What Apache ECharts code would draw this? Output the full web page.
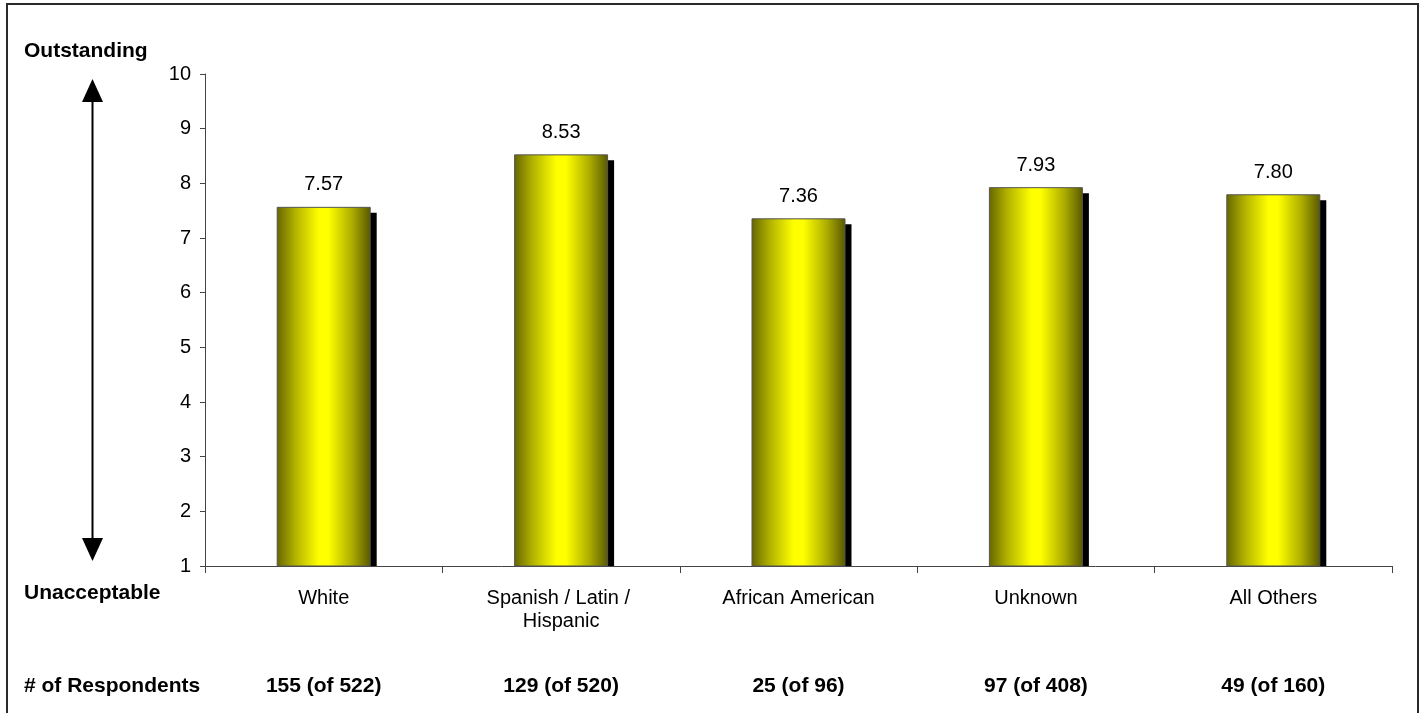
<!DOCTYPE html>
<html>
<head>
<meta charset="utf-8">
<script src="https://cdn.jsdelivr.net/npm/echarts@6/dist/echarts.min.js"></script>
<style>
  html, body { margin: 0; padding: 0; background: #fff; }
  #chart { width: 1425px; height: 713px; }
</style>
</head>
<body>
<div id="chart"></div>
<script>
// data
var categories = ['White', 'Spanish / Latin / Hispanic', 'African American', 'Unknown', 'All Others'];
var scores = [7.57, 8.53, 7.36, 7.93, 7.80];
var respondents = [155, 129, 25, 97, 49];
var invited = [522, 520, 96, 408, 160];
var yTicks = [1, 10, 1]; // min, max, interval

var FONT = '"Liberation Sans", Arial, sans-serif';
var BAR_W = 94;
var SHADOW = 6;

var respLabels = respondents.map(function (n, i) {
    return n + ' (of ' + invited[i] + ')';
});

// yellow cylinder look
var barFill = {
    type: 'linear', x: 0, y: 0, x2: 1, y2: 0,
    colorStops: [
        { offset: 0, color: '#666600' },
        { offset: 0.2, color: '#b3b300' },
        { offset: 0.45, color: '#ffff00' },
        { offset: 0.55, color: '#ffff00' },
        { offset: 0.8, color: '#adad00' },
        { offset: 1, color: '#585800' }
    ]
};

var chart = echarts.init(document.getElementById('chart'));

var option = {
    animation: false,
    backgroundColor: '#fff',
    textStyle: { fontFamily: FONT },
    grid: { left: 205, right: 33, top: 74, bottom: 147 },
    xAxis: [{
        type: 'category',
        data: categories,
        axisLine: { lineStyle: { color: '#444', width: 1 } },
        axisTick: { show: true, length: 7, lineStyle: { color: '#444' } },
        axisLabel: {
            color: '#000', fontSize: 20, fontFamily: FONT, margin: 21,
            lineHeight: 23, width: 215, overflow: 'break', interval: 0
        }
    }, {
        type: 'category',
        data: respLabels,
        position: 'bottom',
        offset: 102,
        axisLine: { show: false },
        axisTick: { show: false },
        axisLabel: {
            color: '#000', fontSize: 21, fontWeight: 'bold', fontFamily: FONT, margin: 8, interval: 0
        }
    }],
    yAxis: {
        type: 'value',
        min: yTicks[0], max: yTicks[1], interval: yTicks[2],
        splitLine: { show: false },
        axisLine: { show: true, lineStyle: { color: '#444' } },
        axisTick: { show: true, length: 5, lineStyle: { color: '#444' } },
        axisLabel: { color: '#000', fontSize: 20, fontFamily: FONT, margin: 14 }
    },
    series: [{
        // drop shadow behind each bar
        type: 'custom',
        z: 1,
        data: scores.map(function (v, i) { return [i, v]; }),
        encode: { x: 0, y: 1 },
        renderItem: function (params, api) {
            var top = api.coord([api.value(0), api.value(1)]);
            var base = api.coord([api.value(0), yTicks[0]]);
            return {
                type: 'rect',
                shape: {
                    x: top[0] - BAR_W / 2 + SHADOW,
                    y: top[1] + SHADOW,
                    width: BAR_W,
                    height: base[1] - top[1] - SHADOW
                },
                style: { fill: '#000' }
            };
        }
    }, {
        type: 'bar',
        z: 3,
        data: scores,
        barWidth: BAR_W,
        itemStyle: { color: barFill, borderColor: '#555', borderWidth: 1 },
        label: {
            show: true, position: 'top', distance: 12,
            color: '#000', fontSize: 20, fontFamily: FONT,
            formatter: function (p) { return p.value.toFixed(2); }
        }
    }],
    graphic: [
        // outer frame
        { type: 'rect', shape: { x: 7, y: 4, width: 1411, height: 720 },
          style: { fill: null, stroke: '#2a2a2a', lineWidth: 2 } },
        { type: 'text', left: 24, top: 41,
          style: { text: 'Outstanding', font: 'bold 21px ' + FONT, fill: '#000' } },
        { type: 'text', left: 24, top: 583,
          style: { text: 'Unacceptable', font: 'bold 21px ' + FONT, fill: '#000' } },
        { type: 'text', left: 24, top: 676,
          style: { text: '# of Respondents', font: 'bold 21px ' + FONT, fill: '#000' } },
        // double headed arrow
        { type: 'line', shape: { x1: 92.5, y1: 100, x2: 92.5, y2: 540 },
          style: { stroke: '#000', lineWidth: 2 } },
        { type: 'polygon', shape: { points: [[92.5, 79], [82, 102], [103, 102]] },
          style: { fill: '#000' } },
        { type: 'polygon', shape: { points: [[92.5, 561], [82, 538], [103, 538]] },
          style: { fill: '#000' } }
    ]
};

chart.setOption(option);
</script>
</body>
</html>
